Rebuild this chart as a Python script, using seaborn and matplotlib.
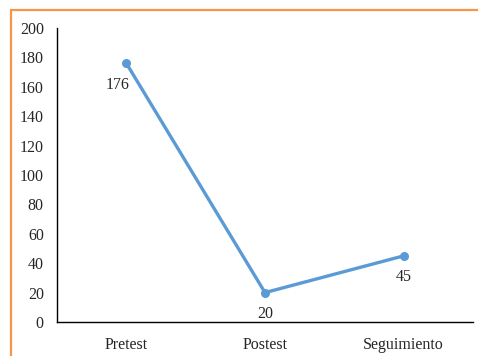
import matplotlib
matplotlib.use("Agg")
import matplotlib.pyplot as plt
import seaborn as sns
import pandas as pd
from matplotlib.patches import Rectangle

categories = ["Pretest", "Postest", "Seguimiento"]
values = [176, 20, 45]
y_ticks = [0, 20, 40, 60, 80, 100, 120, 140, 160, 180, 200]

sns.set_style("white")
plt.rcParams['font.family'] = ['Liberation Serif', 'DejaVu Serif']

W, H = 478, 356
FS = 11.5
fig = plt.figure(figsize=(W / 100, H / 100), dpi=100)
ax = fig.add_axes([57 / W, 1 - 322 / H, (473 - 57) / W, (322 - 28) / H])

df = pd.DataFrame({"cat": categories, "val": values})
df["x"] = range(len(categories))
color = "#5B9BD5"
sns.lineplot(data=df, x="x", y="val", ax=ax, color=color, linewidth=2.4,
             marker="o", markersize=6.5, markeredgewidth=0, markeredgecolor=color)

ax.set_xlim(-0.5, len(categories) - 0.5)
ax.set_ylim(0, 200)
ax.set_xticks(range(len(categories)))
ax.set_xticklabels(categories, fontsize=FS)
ax.set_yticks(y_ticks)
ax.set_yticklabels([str(t) for t in y_ticks], fontsize=FS)
ax.tick_params(axis="both", length=0)
ax.tick_params(axis="x", pad=10.5)
ax.tick_params(axis="y", pad=9.5)
ax.set_xlabel("")
ax.set_ylabel("")
ax.grid(False)
for s in ["top", "right"]:
    ax.spines[s].set_visible(False)
for s in ["left", "bottom"]:
    ax.spines[s].set_color("black")
    ax.spines[s].set_linewidth(1.0)

offsets = [(-9, -22), (0, -21), (0, -21)]
for i, (v, off) in enumerate(zip(values, offsets)):
    ax.annotate(str(v), (i, v), xytext=off, textcoords="offset pixels",
                ha="center", va="center", fontsize=FS)

fig.patches.append(Rectangle((10.5 / W, -0.1), 1.2, 1.1 - 10 / H,
                             transform=fig.transFigure, fill=False,
                             edgecolor="#F79646", linewidth=1.6))

fig.savefig("out.png", dpi=100)
